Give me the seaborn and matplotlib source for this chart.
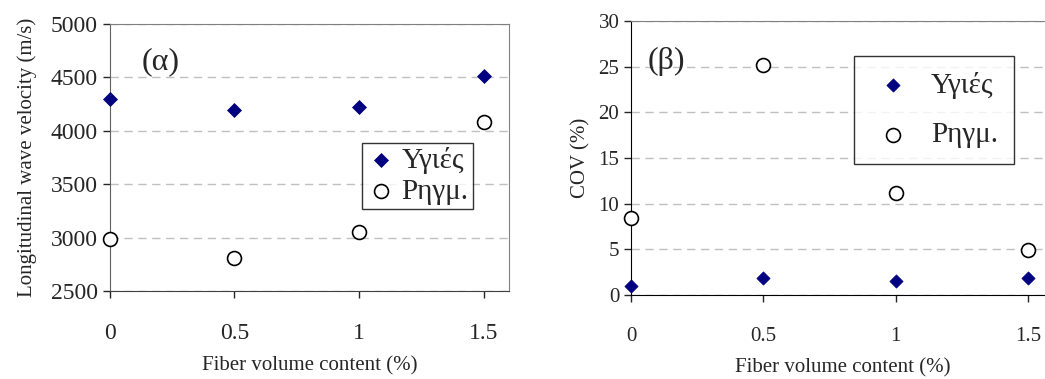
import seaborn as sns
import matplotlib.pyplot as plt
import pandas as pd

# data
fiber = [0, 0.5, 1, 1.5]
vel_healthy = [4300, 4190, 4220, 4510]
vel_cracked = [2990, 2810, 3050, 4080]
cov_healthy = [1.0, 1.9, 1.5, 1.9]
cov_cracked = [8.4, 25.2, 11.1, 4.9]
lab_healthy = "Υγιές"
lab_cracked = "Ρηγμ."

sns.set_style("white")
plt.rcParams['font.family'] = ['Liberation Serif', 'DejaVu Serif']

fig = plt.figure(figsize=(10.45, 3.79), dpi=100)
ax1 = fig.add_axes([0.105, 0.232, 0.382, 0.705])
ax2 = fig.add_axes([0.604, 0.222, 0.405, 0.723])


def draw(ax, healthy, cracked, circ_size, diam_size):
    dh = pd.DataFrame({"x": fiber, "y": healthy})
    dc = pd.DataFrame({"x": fiber, "y": cracked})
    sns.scatterplot(data=dh, x="x", y="y", ax=ax, marker="D", s=diam_size,
                    color="#000080", edgecolor="#000080", label=lab_healthy,
                    zorder=5, clip_on=False)
    sns.scatterplot(data=dc, x="x", y="y", ax=ax, marker="o", s=circ_size,
                    facecolor="white", edgecolor="black", linewidth=1.2,
                    label=lab_cracked, zorder=5, clip_on=False)
    ax.set_xlim(0, 1.6)
    ax.set_xticks(fiber)
    ax.set_xticklabels(["0", "0.5", "1", "1.5"])
    ax.yaxis.grid(True, linestyle=(0, (6, 4)), color="#c0c0c0", linewidth=1)
    ax.set_axisbelow(True)
    ax.tick_params(axis="both", direction="out", length=5, width=1,
                   left=True, bottom=True)
    ax.tick_params(axis="x", pad=18)
    ax.set_xlabel("Fiber volume content (%)", fontsize=15, labelpad=9)


# (α) velocity
draw(ax1, vel_healthy, vel_cracked, 100, 50)
ax1.set_ylim(2500, 5000)
ax1.set_yticks([2500, 3000, 3500, 4000, 4500, 5000])
ax1.tick_params(labelsize=17)
ax1.set_ylabel("Longitudinal wave velocity (m/s)", fontsize=15, labelpad=10)
for s in ax1.spines.values():
    s.set_color("#808080")
ax1.spines["bottom"].set_color("#404040")
ax1.spines["left"].set_color("#606060")
ax1.text(0.08, 0.86, "(α)", transform=ax1.transAxes, fontsize=23,
         ha="left", va="center")
leg1 = ax1.legend(loc="upper left", bbox_to_anchor=(0.632, 0.556),
                  fontsize=21, frameon=True, fancybox=False, handletextpad=0.2,
                  labelspacing=0.15, borderpad=0.15, handlelength=1.0,
                  borderaxespad=0)
leg1.get_frame().set_edgecolor("black")
leg1.get_frame().set_linewidth(1)

# (β) COV
draw(ax2, cov_healthy, cov_cracked, 100, 45)
ax2.set_ylim(0, 30)
ax2.set_yticks([0, 5, 10, 15, 20, 25, 30])
ax2.tick_params(labelsize=15)
ax2.tick_params(axis="x", labelsize=15)
ax2.set_ylabel("COV (%)", fontsize=15, labelpad=6)
ax2.spines["left"].set_color("black")
ax2.spines["bottom"].set_color("black")
ax2.spines["top"].set_color("#808080")
ax2.spines["right"].set_visible(False)
ax2.text(0.04, 0.85, "(β)", transform=ax2.transAxes, fontsize=23,
         ha="left", va="center")
leg2 = ax2.legend(loc="upper left", bbox_to_anchor=(0.526, 0.873),
                  fontsize=21, frameon=True, fancybox=False, handletextpad=0.5,
                  labelspacing=0.8, borderpad=0.55, handlelength=1.6,
                  borderaxespad=0)
leg2.get_frame().set_edgecolor("black")
leg2.get_frame().set_linewidth(1)

fig.savefig("out.png", dpi=100)
